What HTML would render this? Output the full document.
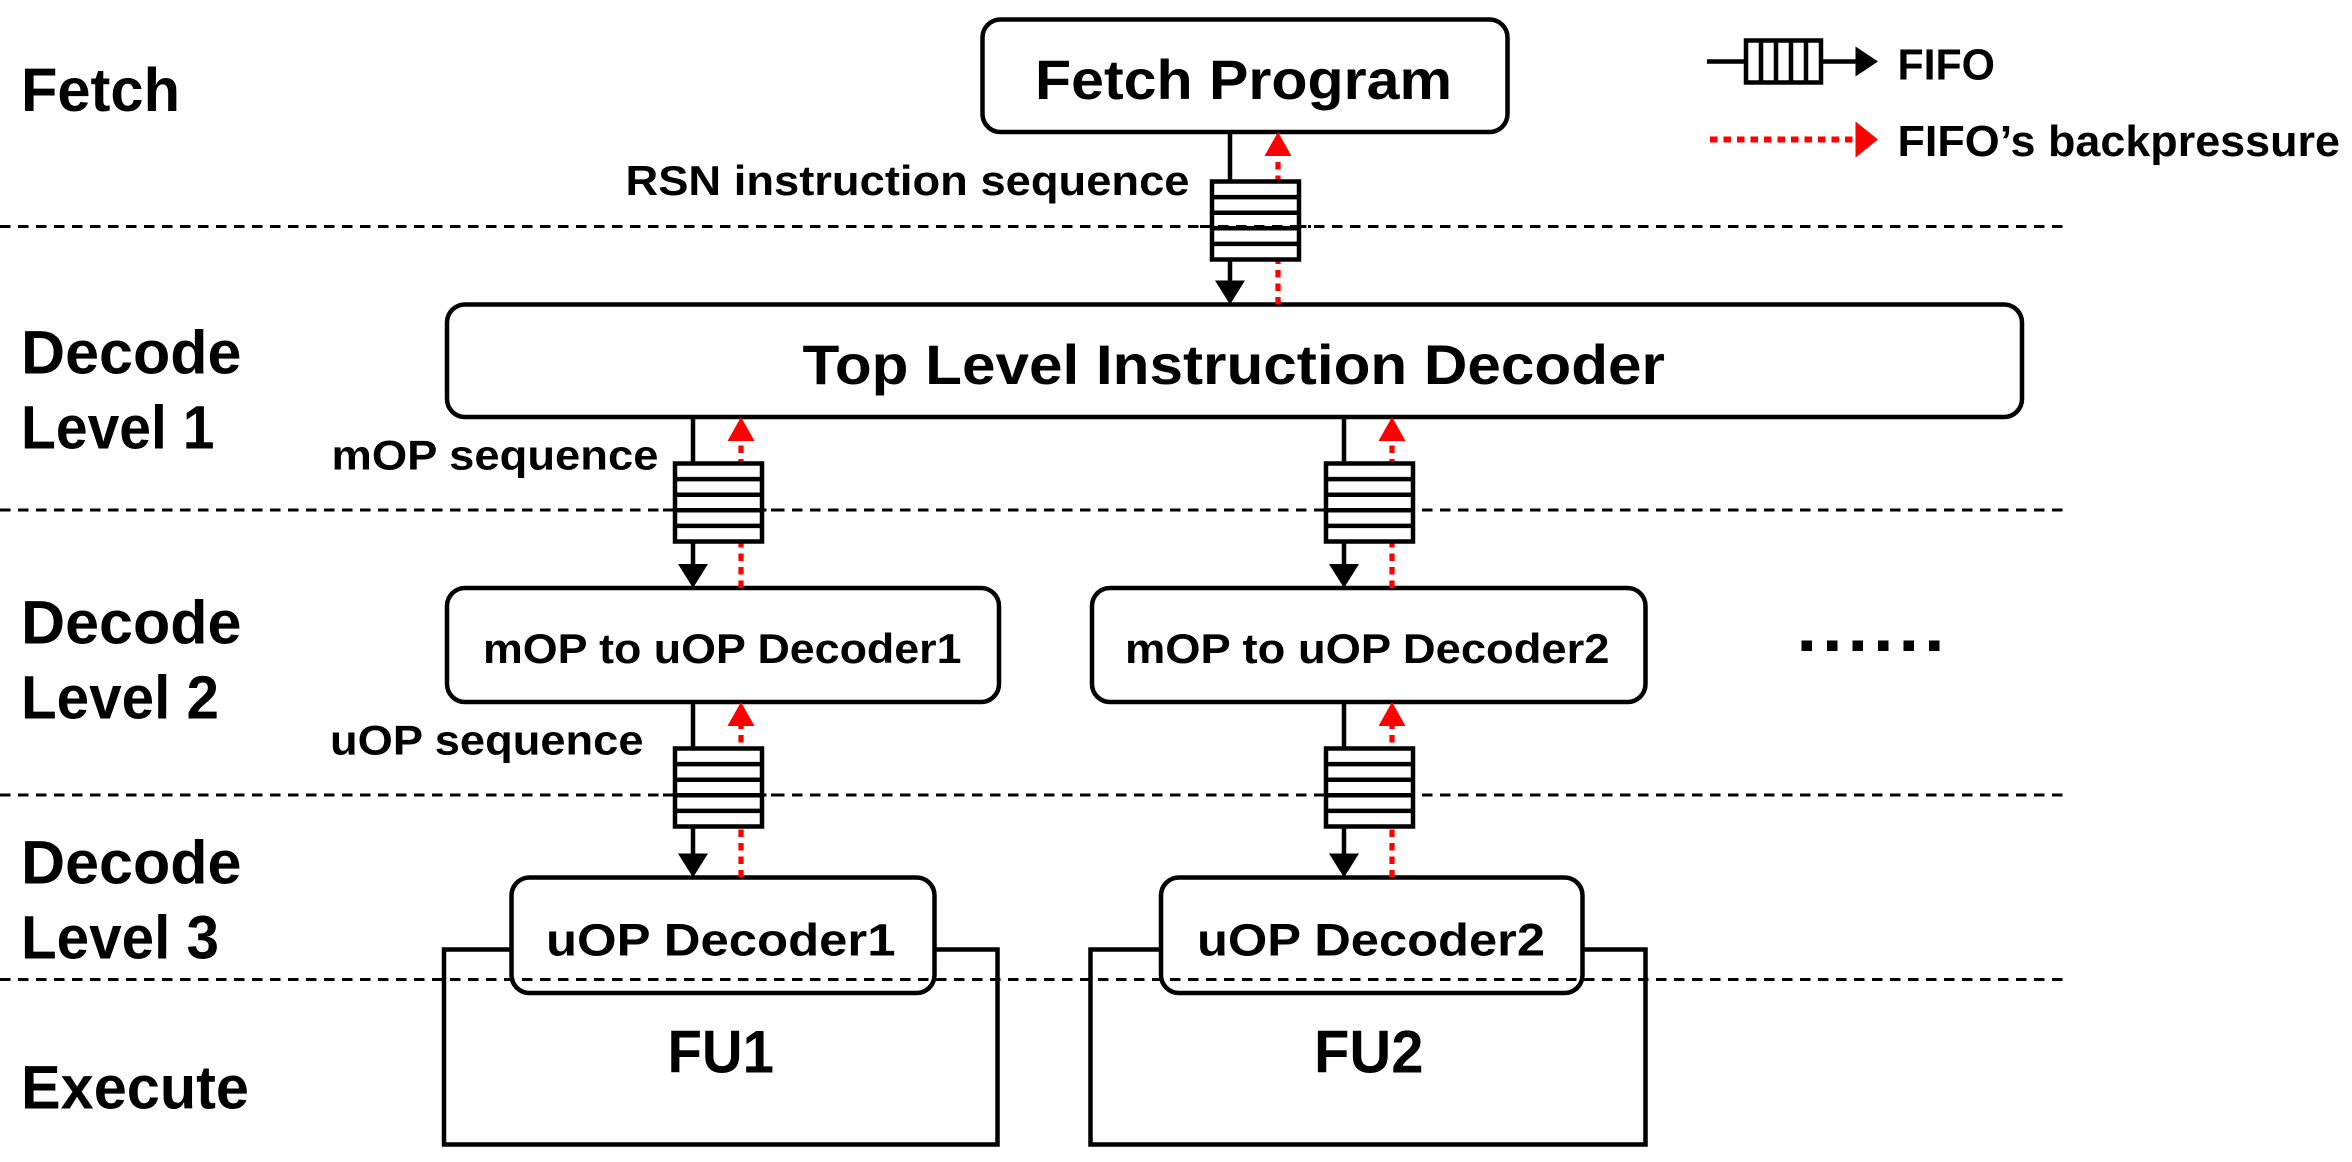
<!DOCTYPE html>
<html><head><meta charset="utf-8"><style>
html,body{margin:0;padding:0;background:#fff;}
svg{display:block;}
text{font-family:"Liberation Sans",sans-serif;font-weight:bold;fill:#000;}
</style></head><body>
<svg width="2352" height="1162" viewBox="0 0 1568 774.67" xmlns="http://www.w3.org/2000/svg">
<defs>
<g id="fifo">
  <rect x="0" y="0" width="58" height="52" fill="#fff" stroke="#000" stroke-width="3"/>
  <line x1="0" y1="10.4" x2="58" y2="10.4" stroke="#000" stroke-width="3"/>
  <line x1="0" y1="20.8" x2="58" y2="20.8" stroke="#000" stroke-width="3"/>
  <line x1="0" y1="31.2" x2="58" y2="31.2" stroke="#000" stroke-width="3"/>
  <line x1="0" y1="41.6" x2="58" y2="41.6" stroke="#000" stroke-width="3"/>
</g>
</defs>

<g stroke="#000" stroke-width="2" stroke-dasharray="7,5">
<line x1="0" y1="151" x2="1378" y2="151"/>
<line x1="0" y1="340" x2="1378" y2="340"/>
<line x1="0" y1="530" x2="1378" y2="530"/>
</g>

<text x="14" y="74" font-size="41" textLength="106" lengthAdjust="spacingAndGlyphs">Fetch</text>
<text x="14" y="249" font-size="41" textLength="147" lengthAdjust="spacingAndGlyphs">Decode</text>
<text x="14" y="299" font-size="41" textLength="129" lengthAdjust="spacingAndGlyphs">Level 1</text>
<text x="14" y="429" font-size="41" textLength="147" lengthAdjust="spacingAndGlyphs">Decode</text>
<text x="14" y="479" font-size="41" textLength="132" lengthAdjust="spacingAndGlyphs">Level 2</text>
<text x="14" y="589" font-size="41" textLength="147" lengthAdjust="spacingAndGlyphs">Decode</text>
<text x="14" y="639" font-size="41" textLength="132" lengthAdjust="spacingAndGlyphs">Level 3</text>
<text x="14" y="739" font-size="41" textLength="152" lengthAdjust="spacingAndGlyphs">Execute</text>

<rect x="655" y="13" width="350" height="75" rx="12" fill="#fff" stroke="#000" stroke-width="3"/>
<text x="690" y="66" font-size="37" textLength="278" lengthAdjust="spacingAndGlyphs">Fetch Program</text>

<rect x="298" y="203" width="1050" height="75" rx="12" fill="#fff" stroke="#000" stroke-width="3"/>
<text x="535" y="256" font-size="37" textLength="575" lengthAdjust="spacingAndGlyphs">Top Level Instruction Decoder</text>

<rect x="298" y="392" width="368" height="76" rx="12" fill="#fff" stroke="#000" stroke-width="3"/>
<text x="322" y="442" font-size="28" textLength="319" lengthAdjust="spacingAndGlyphs">mOP to uOP Decoder1</text>
<rect x="728" y="392" width="369" height="76" rx="12" fill="#fff" stroke="#000" stroke-width="3"/>
<text x="750" y="442" font-size="28" textLength="323" lengthAdjust="spacingAndGlyphs">mOP to uOP Decoder2</text>

<rect x="296" y="633" width="369" height="130" fill="#fff" stroke="#000" stroke-width="3"/>
<rect x="727" y="633" width="370" height="130" fill="#fff" stroke="#000" stroke-width="3"/>
<text x="445" y="715" font-size="40" textLength="71" lengthAdjust="spacingAndGlyphs">FU1</text>
<text x="876" y="715" font-size="40" textLength="73" lengthAdjust="spacingAndGlyphs">FU2</text>

<rect x="341" y="585" width="282" height="77" rx="12" fill="#fff" stroke="#000" stroke-width="3"/>
<text x="364" y="637" font-size="30" textLength="233" lengthAdjust="spacingAndGlyphs">uOP Decoder1</text>
<rect x="774" y="585" width="281" height="77" rx="12" fill="#fff" stroke="#000" stroke-width="3"/>
<text x="798" y="637" font-size="30" textLength="232" lengthAdjust="spacingAndGlyphs">uOP Decoder2</text>

<line x1="0" y1="653" x2="1378" y2="653" stroke="#000" stroke-width="2" stroke-dasharray="7,5"/>

<g stroke="#000" stroke-width="3">
<line x1="820" y1="88" x2="820" y2="192"/>
<line x1="462" y1="278" x2="462" y2="381"/>
<line x1="896" y1="278" x2="896" y2="381"/>
<line x1="462" y1="468" x2="462" y2="574"/>
<line x1="896" y1="468" x2="896" y2="574"/>
</g>
<g fill="#000">
<polygon points="810,187 830,187 820,203"/>
<polygon points="452,376 472,376 462,392"/>
<polygon points="886,376 906,376 896,392"/>
<polygon points="452,569 472,569 462,585"/>
<polygon points="886,569 906,569 896,585"/>
</g>
<g stroke="#f00" stroke-width="3.5" stroke-dasharray="5,4">
<line x1="852" y1="203" x2="852" y2="100"/>
<line x1="494" y1="392" x2="494" y2="290"/>
<line x1="928" y1="392" x2="928" y2="290"/>
<line x1="494" y1="585" x2="494" y2="480"/>
<line x1="928" y1="585" x2="928" y2="480"/>
</g>
<g fill="#f00">
<polygon points="843,104 861,104 852,88"/>
<polygon points="485,294 503,294 494,278"/>
<polygon points="919,294 937,294 928,278"/>
<polygon points="485,484 503,484 494,468"/>
<polygon points="919,484 937,484 928,468"/>
</g>

<use href="#fifo" x="808" y="121"/>
<use href="#fifo" x="450" y="309"/>
<use href="#fifo" x="884" y="309"/>
<use href="#fifo" x="450" y="499"/>
<use href="#fifo" x="884" y="499"/>
<line x1="800" y1="151" x2="874" y2="151" stroke="#000" stroke-width="2" stroke-dasharray="7,5"/>
<line x1="442" y1="340" x2="516" y2="340" stroke="#000" stroke-width="2" stroke-dasharray="7,5"/>
<line x1="876" y1="340" x2="950" y2="340" stroke="#000" stroke-width="2" stroke-dasharray="7,5"/>
<line x1="442" y1="530" x2="516" y2="530" stroke="#000" stroke-width="2" stroke-dasharray="7,5"/>
<line x1="876" y1="530" x2="950" y2="530" stroke="#000" stroke-width="2" stroke-dasharray="7,5"/>

<text x="417" y="130" font-size="28" textLength="376" lengthAdjust="spacingAndGlyphs">RSN instruction sequence</text>
<text x="221" y="313" font-size="28" textLength="218" lengthAdjust="spacingAndGlyphs">mOP sequence</text>
<text x="220" y="503" font-size="28" textLength="209" lengthAdjust="spacingAndGlyphs">uOP sequence</text>

<g fill="#000">
<rect x="1201" y="427" width="7" height="7"/>
<rect x="1218" y="427" width="7" height="7"/>
<rect x="1235" y="427" width="7" height="7"/>
<rect x="1252" y="427" width="7" height="7"/>
<rect x="1269" y="427" width="7" height="7"/>
<rect x="1286" y="427" width="7" height="7"/>
</g>

<line x1="1138" y1="41" x2="1240" y2="41" stroke="#000" stroke-width="3"/>
<rect x="1164" y="27" width="50" height="28" fill="#fff" stroke="#000" stroke-width="3"/>
<line x1="1174" y1="27" x2="1174" y2="55" stroke="#000" stroke-width="3"/>
<line x1="1184" y1="27" x2="1184" y2="55" stroke="#000" stroke-width="3"/>
<line x1="1194" y1="27" x2="1194" y2="55" stroke="#000" stroke-width="3"/>
<line x1="1204" y1="27" x2="1204" y2="55" stroke="#000" stroke-width="3"/>
<polygon points="1237,31 1252,41 1237,51" fill="#000"/>
<text x="1265" y="53" font-size="29" textLength="65" lengthAdjust="spacingAndGlyphs">FIFO</text>
<line x1="1140" y1="93" x2="1238" y2="93" stroke="#f00" stroke-width="4" stroke-dasharray="5,4"/>
<polygon points="1237,81 1252,93 1237,105" fill="#f00"/>
<text x="1265" y="104" font-size="29" textLength="295" lengthAdjust="spacingAndGlyphs">FIFO’s backpressure</text>
</svg>
</body></html>
